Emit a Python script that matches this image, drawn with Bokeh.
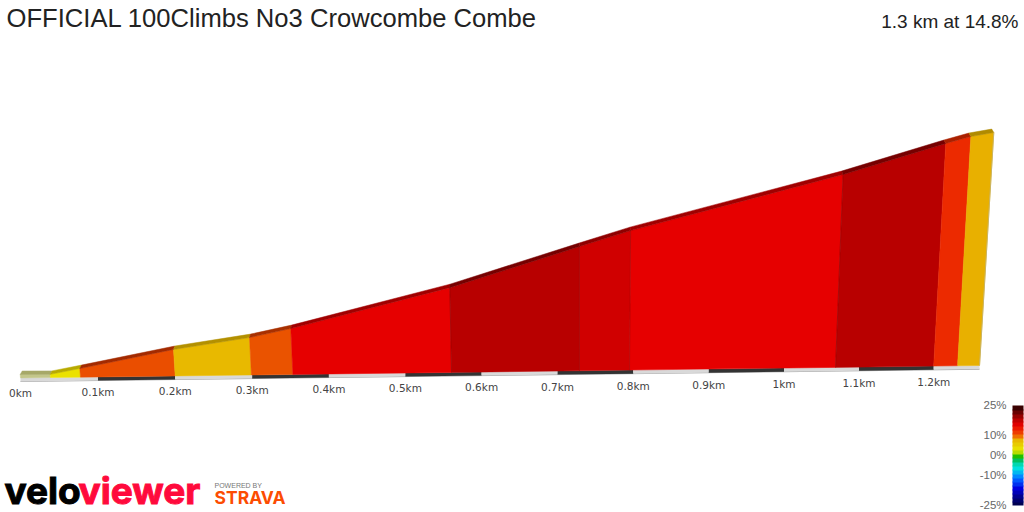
from bokeh.plotting import figure
from bokeh.models import Range1d
from bokeh.embed import file_html
from bokeh.resources import INLINE
from bokeh.core.properties import value

TITLE = "OFFICIAL 100Climbs No3 Crowcombe Combe"
SUBTITLE = "1.3 km at 14.8%"
# climb profile: boundaries of the gradient sections
section_km = [0, 0.0387, 0.0774, 0.2, 0.299, 0.353, 0.5605, 0.7289, 0.795, 1.0687, 1.2, 1.232, 1.2615]
section_elev = [2.8, 2.6, 7.0, 21.5, 30.4, 37.3, 68.9, 101, 113.4, 156.8, 181, 186.4, 189.4]
section_color = ["#c3c68a", "#ebe100", "#ea4e00", "#e8b900", "#ea5300", "#e60000", "#b80000",
                 "#d00000", "#e60000", "#b80000", "#ec2a00", "#e8b000"]
section_top = ["#a6a868", "#b8aa00", "#a32a00", "#b39000", "#a83000", "#a00000", "#760000",
               "#8e0000", "#a00000", "#760000", "#aa2000", "#b08a00"]
tick_km = [0, 0.1, 0.2, 0.3, 0.4, 0.5, 0.6, 0.7, 0.8, 0.9, 1.0, 1.1, 1.2]
tick_labels = ["0km", "0.1km", "0.2km", "0.3km", "0.4km", "0.5km", "0.6km", "0.7km", "0.8km",
               "0.9km", "1km", "1.1km", "1.2km"]
scale_ticks = [25, 10, 0, -10, -25]
scale_labels = ["25%", "10%", "0%", "-10%", "-25%"]
scale_top = [25, 23, 21, 19, 17, 15, 13, 11, 9, 7, 5, 3, 1, -1, -3, -5, -7, -9, -11, -13, -15, -17, -19, -21, -23]
scale_color = ["#3a0000", "#6a0000", "#980000", "#c00000", "#e00000", "#ec1800", "#ee3c00", "#ee7000",
               "#e8b800", "#e8cc00", "#e8e000", "#b8dc00", "#20c000", "#00c060", "#00d8b0", "#00e0e0",
               "#00b8f0", "#0088ff", "#0058ff", "#0030f0", "#0000e0", "#0000b8", "#000090", "#000070", "#000050"]

W, H = 1024, 512
PX_LIN = 776.0   # perspective: px per km at the start of the road
PX_SQ = -12.5    # perspective: foreshortening of the road
PX_PER_M = 1.23
X0 = 20.0
Y0 = 377.4
TILT = 8.0      # m per km, slope of the road base in the picture
LEAN = 1.9e-4   # perspective lean of section edges (in km per km per m)
PIVOT = 0.729
DEPTH_M = 2.8
DEPTH_K = 2.0
DEPTH_C = 480.0

p = figure(width=W, height=H, output_backend="svg", toolbar_location=None, min_border=0,
           x_range=Range1d(-X0, W - X0),
           y_range=Range1d((Y0 - H) / PX_PER_M, Y0 / PX_PER_M))
p.axis.visible = False
p.grid.visible = False
p.outline_line_color = None
p.extra_y_ranges["pct"] = Range1d(25 - (H - 405) / 2.0, 25 + 405 / 2.0)
p.extra_x_ranges["px"] = Range1d(0, W)
p.extra_y_ranges["px"] = Range1d(H, 0)


def road(k):
    return PX_LIN * k + PX_SQ * k * k


def ground(k):
    return TILT * k


def front_top(k, e):
    return road(k + LEAN * (k - PIVOT) * e), e + ground(k)


def back_top(k, e):
    x, y = front_top(k, e)
    return x + DEPTH_K * (DEPTH_C - x) / DEPTH_C, y + DEPTH_M


# road strip under the profile
end_km = section_km[-1]
strip = 3.6 / PX_PER_M
marks = [0] + tick_km[1:] + [end_km]
sx, sy, sc = [], [], []
for i in range(len(marks) - 1):
    a, b = marks[i], marks[i + 1]
    sx.append([road(a), road(b), road(b), road(a)])
    sy.append([ground(a), ground(b), ground(b) - strip, ground(a) - strip])
    sc.append("#333333" if i % 2 == 1 else "#d9d9d9")
p.line([road(0), road(end_km)], [ground(0) - strip, ground(end_km) - strip], line_color="#a8a8a8", line_width=1.2)
p.patches(sx, sy, fill_color=sc, line_color=None)

# front faces and top faces
fx, fy, tx, ty = [], [], [], []
for i in range(len(section_color)):
    k0, k1 = section_km[i], section_km[i + 1]
    e0, e1 = section_elev[i], section_elev[i + 1]
    a, b = front_top(k0, e0), front_top(k1, e1)
    c, d = back_top(k0, e0), back_top(k1, e1)
    fx.append([road(k0), road(k1), b[0], a[0]])
    fy.append([ground(k0), ground(k1), b[1], a[1]])
    tx.append([a[0], b[0], d[0], c[0]])
    ty.append([a[1], b[1], d[1], c[1]])
p.patches(fx, fy, fill_color=section_color, line_color=section_color, line_width=0.5)
p.patches(tx, ty, fill_color=section_top, line_color=section_top, line_width=0.5)
# thin dark seams between the steep sections
for i in range(6, 10):
    k, e = section_km[i], section_elev[i]
    top = front_top(k, e)
    p.line([road(k), top[0]], [ground(k), top[1]], line_color="#800000", line_alpha=0.5, line_width=0.8)
last = front_top(section_km[-1], section_elev[-1])
p.line([road(section_km[-1]), last[0]], [ground(section_km[-1]), last[1]], line_color="#c9b464", line_width=1)

# distance labels
p.text([road(k) for k in tick_km], [ground(k) - 15.5 / PX_PER_M for k in tick_km], text=tick_labels,
       text_font=value("DejaVu Sans"), text_font_size="10.5px", text_color="#444444",
       text_align="center", text_baseline="middle")

# titles
p.text([6], [17.5], text=[TITLE], x_range_name="px", y_range_name="px", text_font=value("Liberation Sans"),
       text_font_size="25.6px", text_color="#222222", text_align="left", text_baseline="middle")
p.text([1018], [20.5], text=[SUBTITLE], x_range_name="px", y_range_name="px",
       text_font=value("Liberation Sans"), text_font_size="19px", text_color="#222222",
       text_align="right", text_baseline="middle")

# gradient scale, drawn from the bottom up with a slight overlap so no seams show
rev_top = scale_top[::-1]
rev_color = scale_color[::-1]
p.quad(left=[1012] * len(rev_top), right=[1023] * len(rev_top), top=rev_top,
       bottom=[max(v - 2.5, -25) for v in rev_top], fill_color=rev_color, line_color=None,
       x_range_name="px", y_range_name="pct")
p.text([1006] * len(scale_ticks), [v + 0.5 for v in scale_ticks], text=scale_labels, x_range_name="px",
       y_range_name="pct", text_font=value("Liberation Sans"), text_font_size="11.5px",
       text_color="#666666", text_align="right", text_baseline="middle")

# logo
p.text([4], [490], text=["velo"], x_range_name="px", y_range_name="px", text_font=value("Inter"),
       text_font_style="bold", text_font_size="37px", text_color="#000000", outline_color="#000000",
       text_baseline="middle")
p.text([78], [490], text=["viewer"], x_range_name="px", y_range_name="px", text_font=value("Inter"),
       text_font_style="bold", text_font_size="37px", text_color="#ff0a3c", outline_color="#ff0a3c",
       text_baseline="middle")
p.text([214], [485], text=["POWERED BY"], x_range_name="px", y_range_name="px",
       text_font=value("Liberation Sans"), text_font_size="7px", text_color="#777777",
       text_baseline="middle")
p.text([214], [497], text=["STRAVA"], x_range_name="px", y_range_name="px", text_font=value("Inter"),
       text_font_style="bold", text_font_size="17.5px", text_color="#fc4c02", text_baseline="middle")

open("out.html", "w").write(file_html(p, INLINE))
